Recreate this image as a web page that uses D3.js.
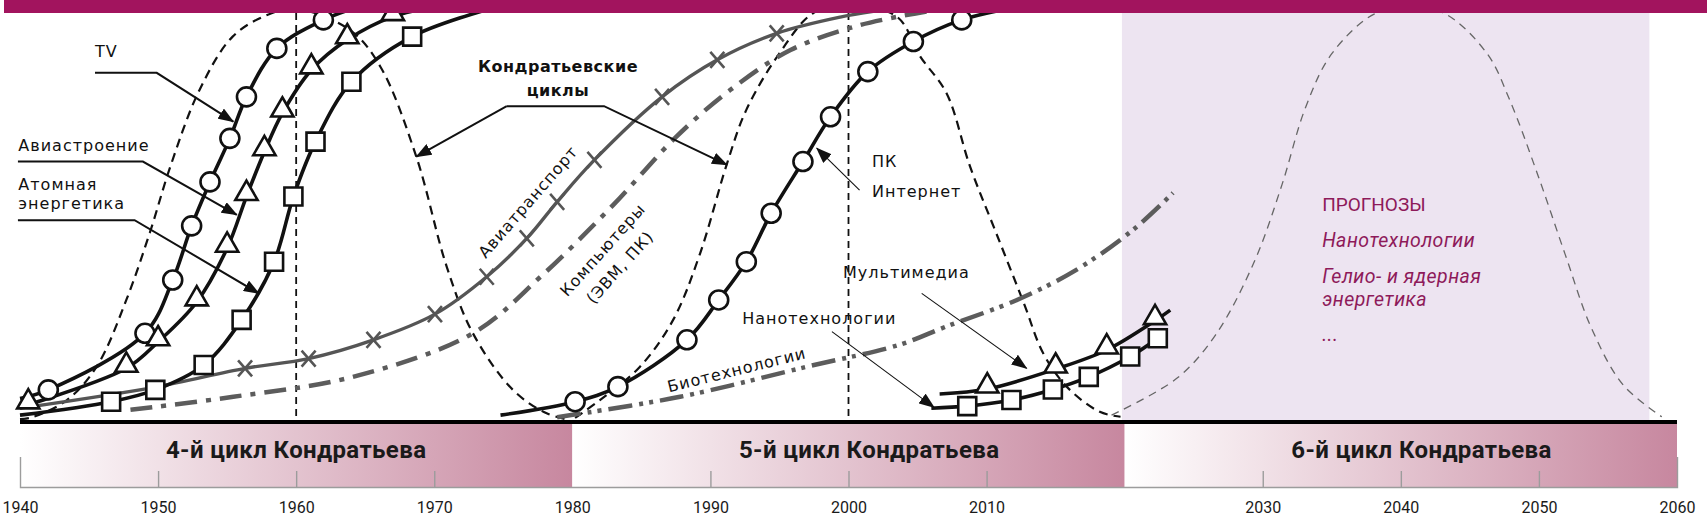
<!DOCTYPE html>
<html>
<head>
<meta charset="utf-8">
<script src="https://cdn.jsdelivr.net/npm/d3@7"></script>
<style>
  body { margin: 0; background: #fff; }
  svg { display: block; }
</style>
</head>
<body>
<div id="chart"></div>
<script>
// ---- data: [year, level 0..100] ----
var cycleNames = ["4-й цикл Кондратьева", "5-й цикл Кондратьева", "6-й цикл Кондратьева"];
var cycleStart = [1940, 1980, 2020];
var cycleEnd = [1980, 2020, 2060];
var cycleLabelYear = [1960, 2001.5, 2041.5];

var tickYears = [1950, 1960, 1970, 1990, 2000, 2010, 2030, 2040, 2050];
var labelYears = [1940, 1950, 1960, 1970, 1980, 1990, 2000, 2010, 2030, 2040, 2050, 2060];
var guideYears = [1960, 2000];
var forecastSpan = [2019.8, 2058];

// Kondratiev waves (dashed bells)
var wave4 = [[1940, 0.2], [1940.9, 0.7], [1943.4, 4.9], [1945.55, 13.1], [1947.7, 29.5], [1949.4, 46.0], [1950.9, 62.4],
  [1953.0, 81.1], [1955.4, 94.2], [1957.9, 99.5], [1960, 101], [1963.9, 95.8], [1966.1, 86.8], [1968.7, 64.7],
  [1970.9, 37.7], [1972.8, 21.3], [1975.7, 7.4], [1978.1, 1.7], [1979.8, 0]];
var wave5 = [[1980.2, 0.5], [1982.0, 4.9], [1984.9, 13.1], [1987.3, 24.6], [1989.25, 40.9], [1991.2, 63.0], [1992.6, 76.2],
  [1995.0, 90.1], [1997.45, 100], [2000, 102], [2003.5, 99.1], [2005.2, 89.3], [2007.1, 80.3], [2008.8, 62.3],
  [2010.7, 45.9], [2012.7, 28.7], [2014.1, 16.4], [2015.8, 8.2], [2018.2, 2.0], [2019.7, 0.8]];
var wave6 = [[2019.05, 1.2], [2023.8, 10.3], [2026.6, 21.0], [2029.4, 39.0], [2031.4, 57.9], [2033.1, 76.8], [2035.0, 90.0],
  [2038.1, 99.8], [2040.6, 101.5], [2043.2, 99.8], [2046.25, 90.0], [2047.9, 78.5], [2049.9, 60.4], [2051.9, 40.7],
  [2053.8, 22.6], [2056.1, 8.6], [2058.9, 0.8]];

// technology curves
var tvMarks = [[1942.05, 7.4], [1949.05, 21.3], [1951.06, 34.4], [1952.43, 47.7], [1953.76, 58.5], [1955.2, 69.2],
  [1956.4, 79.4], [1958.6, 91.3], [1961.97, 98.3]];
var tvEnds = [[1940, 5.3], [1964.5, 101.5]];
var aviaMarks = [[1940.6, 3.7], [1947.7, 12.7], [1950.0, 19.2], [1952.8, 29.0], [1955.0, 42.2], [1956.4, 54.9],
  [1957.7, 65.9], [1959.0, 75.4], [1961.1, 86.0], [1963.7, 93.4], [1967.0, 99.1]];
var aviaEnds = [[1940, 3.0], [1970, 101.5]];
var atomMarks = [[1946.6, 4.5], [1949.8, 7.4], [1953.3, 13.5], [1956.05, 24.6], [1958.4, 38.9], [1959.8, 54.9],
  [1961.4, 68.4], [1964.0, 83.1], [1968.4, 94.2]];
var atomEnds = [[1940, 1.2], [1974, 101]];
var pcMarks = [[1980.2, 4.5], [1983.3, 8.2], [1988.3, 19.7], [1990.6, 29.5], [1992.6, 38.9], [1994.4, 50.8],
  [1996.7, 63.5], [1998.7, 74.5], [2001.4, 85.6], [2004.7, 93.0], [2008.2, 98.3]];
var pcEnds = [[1974.8, 1.2], [2011.5, 101]];
var mediaMarks = [[2010.05, 7.6], [2015.0, 12.5], [2018.7, 17.2], [2022.2, 24.4]];
var mediaEnds = [[2006.6, 6.4], [2023.3, 27.0]];
var nanoMarks = [[2008.6, 3.4], [2011.8, 4.9], [2014.8, 7.5], [2017.4, 10.6], [2020.4, 15.6], [2022.4, 20.1]];
var nanoStart = [2006.0, 2.9];

var airMarks = [[1956.3, 12.7], [1960.9, 15.1], [1965.6, 19.7], [1970.05, 26.0], [1973.8, 35.2], [1976.7, 44.6],
  [1978.9, 53.6], [1981.6, 63.9], [1986.5, 79.4], [1990.5, 88.5], [1994.8, 95.0]];
var airLead = [[1940, 2.9], [1949.8, 8.1]];
var airTail = [[1999.4, 99], [2002, 100.5]];
var compLine = [[1948.0, 2.5], [1955.45, 5.7], [1964.1, 10.6], [1972.8, 21.3], [1977.7, 35.2], [1982.95, 52.8],
  [1987.5, 69.5], [1991.4, 81], [1995.8, 90.9], [2000.8, 97], [2005.9, 100.5]];
var bioLine = [[1978.9, 0.7], [1987.8, 5.7], [1997.0, 13.1], [2003.7, 18.5], [2007.1, 23.0], [2012.2, 29.5],
  [2016.5, 36.9], [2020.6, 46.7], [2023.5, 55.8]];

// annotations (text anchor points and leader lines, in year/level units)
var plainLabels = [
  {t: "TV", p: [1945.43, 89.1]},
  {t: "Авиастроение", p: [1939.88, 66.1]},
  {t: "Атомная", p: [1939.88, 56.6]},
  {t: "энергетика", p: [1939.88, 51.9]},
  {t: "ПК", p: [2001.7, 62.2]},
  {t: "Интернет", p: [2001.7, 54.9]},
  {t: "Мультимедиа", p: [1999.6, 34.8]},
  {t: "Нанотехнологии", p: [1992.3, 23.6]}
];
var boldLabels = [{t: "Кондратьевские", p: [1978.96, 85.6]}, {t: "циклы", p: [1978.96, 79.7]}];
var rotatedLabels = [
  {t: "Авиатранспорт", p: [1976.8, 53.6], a: -49},
  {t: "Компьютеры", p: [1982.2, 41.8], a: -48},
  {t: "(ЭВМ, ПК)", p: [1983.45, 37.5], a: -48},
  {t: "Биотехнологии", p: [1991.9, 12.3], a: -14}
];
var thickArrows = [
  [[1945.43, 85.3], [1949.9, 85.3], [1955.45, 73.3]],
  [[1939.85, 63.5], [1948.9, 63.5], [1955.7, 50.4]],
  [[1939.85, 49.1], [1948.3, 49.1], [1957.3, 31.1]],
  [[1975.25, 77.1], [1968.7, 64.7]],
  [[1975.25, 77.1], [1982.3, 77.1], [1991.2, 62.7]]
];
var thinArrows = [
  [[2000.8, 56.5], [1997.7, 66.8]],
  [[2005.3, 31.1], [2012.9, 12.7]],
  [[1998.8, 21.7], [2006.2, 3.1]]
];
var forecastTitle = {t: "ПРОГНОЗЫ", p: [2034.3, 51.35]};
var forecastItems = [
  {t: "Нанотехнологии", p: [2034.3, 42.5]},
  {t: "Гелио- и ядерная", p: [2034.3, 33.7]},
  {t: "энергетика", p: [2034.3, 28.0]},
  {t: "...", p: [2034.3, 19.3]}
];

// ---- drawing ----
var W = 1707, H = 528;
var x = d3.scaleLinear().domain([1940, 2060]).range([20, 1677]);
var y = d3.scaleLinear().domain([0, 100]).range([420, 13]);

var svg = d3.select("#chart").append("svg")
  .attr("width", W).attr("height", H)
  .style("font-family", "'DejaVu Sans', sans-serif");

var defs = svg.append("defs");
defs.append("clipPath").attr("id", "plot")
  .append("rect").attr("x", 0).attr("y", y(100)).attr("width", W).attr("height", y(0) - y(100));

defs.append("marker").attr("id", "head")
  .attr("viewBox", "0 0 16 12").attr("markerUnits", "userSpaceOnUse")
  .attr("markerWidth", 16).attr("markerHeight", 12)
  .attr("refX", 15).attr("refY", 6).attr("orient", "auto")
  .append("path").attr("d", "M0,0L16,6L0,12Z").attr("fill", "#111");

var grad = defs.append("linearGradient").attr("id", "band");
grad.append("stop").attr("offset", "0%").attr("stop-color", "#ffffff");
grad.append("stop").attr("offset", "100%").attr("stop-color", "#c7879f");

var line = d3.line()
  .x(function(d) { return x(d[0]); })
  .y(function(d) { return y(d[1]); })
  .curve(d3.curveCatmullRom.alpha(0.5));

function pos(d) { return "translate(" + x(d[0]) + "," + y(d[1]) + ")"; }

// forecast area
svg.append("rect")
  .attr("x", x(forecastSpan[0])).attr("y", y(100))
  .attr("width", x(forecastSpan[1]) - x(forecastSpan[0])).attr("height", y(0) - y(100))
  .attr("fill", "#ede4f1");

var plot = svg.append("g").attr("clip-path", "url(#plot)");

// guide lines at 1960 and 2000
plot.selectAll(".guide").data(guideYears).enter().append("line")
  .attr("x1", function(d) { return x(d); }).attr("x2", function(d) { return x(d); })
  .attr("y1", y(100)).attr("y2", y(0))
  .attr("stroke", "#111").attr("stroke-width", 1.8).attr("stroke-dasharray", "7,5");

// waves
plot.append("path").attr("d", line(wave4)).attr("fill", "none")
  .attr("stroke", "#111").attr("stroke-width", 2.2).attr("stroke-dasharray", "9,6");
plot.append("path").attr("d", line(wave5)).attr("fill", "none")
  .attr("stroke", "#111").attr("stroke-width", 2.2).attr("stroke-dasharray", "9,6");
plot.append("path").attr("d", line(wave6)).attr("fill", "none")
  .attr("stroke", "#666").attr("stroke-width", 1.3).attr("stroke-dasharray", "8,6");

// gray curves
plot.append("path").attr("d", line(compLine)).attr("fill", "none")
  .attr("stroke", "#5c5c5c").attr("stroke-width", 4.5).attr("stroke-dasharray", "22,9,5,9");
plot.append("path").attr("d", line(bioLine)).attr("fill", "none")
  .attr("stroke", "#5c5c5c").attr("stroke-width", 4.5).attr("stroke-dasharray", "24,7,4,6,4,7");
plot.append("path").attr("d", line(airLead.concat(airMarks, airTail))).attr("fill", "none")
  .attr("stroke", "#555").attr("stroke-width", 3.3);
plot.selectAll(".xm").data(airMarks).enter().append("path")
  .attr("transform", pos)
  .attr("d", "M-7,-8L7,8M-7,8L7,-8")
  .attr("stroke", "#555").attr("stroke-width", 2.6);

// black curves
var blackSeries = [
  tvEnds.slice(0, 1).concat(tvMarks, tvEnds.slice(1)),
  aviaEnds.slice(0, 1).concat(aviaMarks, aviaEnds.slice(1)),
  atomEnds.slice(0, 1).concat(atomMarks, atomEnds.slice(1)),
  pcEnds.slice(0, 1).concat(pcMarks, pcEnds.slice(1)),
  mediaEnds.slice(0, 1).concat(mediaMarks, mediaEnds.slice(1)),
  [nanoStart].concat(nanoMarks)
];
plot.selectAll(".blk").data(blackSeries).enter().append("path")
  .attr("d", line).attr("fill", "none")
  .attr("stroke", "#111").attr("stroke-width", 3.6);

var circ = d3.symbol().type(d3.symbolCircle).size(Math.PI * 9.5 * 9.5);
var tri = d3.symbol().type(d3.symbolTriangle).size(215);
var sq = d3.symbol().type(d3.symbolSquare).size(18 * 18);

plot.selectAll(".c").data(tvMarks.concat(pcMarks)).enter().append("path")
  .attr("transform", pos).attr("d", circ)
  .attr("fill", "#fff").attr("stroke", "#111").attr("stroke-width", 2.6);
plot.selectAll(".t").data(aviaMarks.concat(mediaMarks)).enter().append("path")
  .attr("transform", function(d) { return pos(d) + " translate(0,-3)"; }).attr("d", tri)
  .attr("fill", "#fff").attr("stroke", "#111").attr("stroke-width", 2.6);
plot.selectAll(".s").data(atomMarks.concat(nanoMarks)).enter().append("path")
  .attr("transform", pos).attr("d", sq)
  .attr("fill", "#fff").attr("stroke", "#111").attr("stroke-width", 2.6);

// annotations
var straight = d3.line().x(function(d) { return x(d[0]); }).y(function(d) { return y(d[1]); });
svg.selectAll(".arT").data(thickArrows).enter().append("path")
  .attr("d", straight).attr("fill", "none")
  .attr("stroke", "#111").attr("stroke-width", 2)
  .attr("marker-end", "url(#head)");
svg.selectAll(".art").data(thinArrows).enter().append("path")
  .attr("d", straight).attr("fill", "none")
  .attr("stroke", "#111").attr("stroke-width", 1.1)
  .attr("marker-end", "url(#head)");

svg.selectAll(".lbl").data(plainLabels).enter().append("text")
  .attr("x", function(d) { return x(d.p[0]); }).attr("y", function(d) { return y(d.p[1]); })
  .attr("font-size", 16).attr("letter-spacing", 1).attr("fill", "#111")
  .text(function(d) { return d.t; });
svg.selectAll(".bl").data(boldLabels).enter().append("text")
  .attr("x", function(d) { return x(d.p[0]); }).attr("y", function(d) { return y(d.p[1]); })
  .attr("text-anchor", "middle").attr("font-size", 16).attr("font-weight", "bold")
  .attr("letter-spacing", 0.5).attr("fill", "#111")
  .text(function(d) { return d.t; });
svg.selectAll(".rl").data(rotatedLabels).enter().append("text")
  .attr("transform", function(d) { return pos(d.p) + " rotate(" + d.a + ")"; })
  .attr("text-anchor", "middle").attr("dominant-baseline", "central")
  .attr("font-size", 16).attr("letter-spacing", 1).attr("fill", "#111")
  .text(function(d) { return d.t; });

// forecast texts
svg.append("text")
  .attr("x", x(forecastTitle.p[0])).attr("y", y(forecastTitle.p[1]))
  .attr("font-family", "Roboto, sans-serif").attr("font-size", 19).attr("fill", "#8e1a5a")
  .text(forecastTitle.t);
svg.selectAll(".fi").data(forecastItems).enter().append("text")
  .attr("x", function(d) { return x(d.p[0]); }).attr("y", function(d) { return y(d.p[1]); })
  .attr("font-family", "Roboto, sans-serif").attr("font-size", 19.5).attr("font-style", "italic")
  .attr("letter-spacing", 0.5).attr("fill", "#8e1a5a")
  .text(function(d) { return d.t; });

// top bar
svg.append("rect").attr("x", 4).attr("y", 0).attr("width", W - 4).attr("height", y(100))
  .attr("fill", "#a2145e");

// cycle bands under the axis
var bandTop = 424, bandBottom = 487;
svg.selectAll(".band").data(cycleStart).enter().append("rect")
  .attr("x", function(d) { return x(d); }).attr("y", bandTop)
  .attr("width", function(d, i) { return x(cycleEnd[i]) - x(d); })
  .attr("height", bandBottom - bandTop)
  .attr("fill", "url(#band)");
svg.selectAll(".cname").data(cycleNames).enter().append("text")
  .attr("x", function(d, i) { return x(cycleLabelYear[i]); }).attr("y", 458)
  .attr("text-anchor", "middle")
  .attr("font-family", "Roboto, sans-serif").attr("font-weight", "bold").attr("font-size", 24)
  .attr("letter-spacing", 0.4).attr("fill", "#1a1a1a")
  .text(function(d) { return d; });

// main axis line
svg.append("line").attr("x1", x(1940)).attr("x2", x(2060)).attr("y1", 422).attr("y2", 422)
  .attr("stroke", "#000").attr("stroke-width", 4);

// tick rail with tall edge ticks
var tickAxis = svg.append("g").attr("transform", "translate(0," + bandBottom + ")")
  .call(d3.axisTop(x).tickValues(tickYears).tickSize(16).tickSizeOuter(30).tickFormat(""));
tickAxis.selectAll("path, line").attr("stroke", "#9c9c9c").attr("stroke-width", 1.4);

var labelAxis = svg.append("g").attr("transform", "translate(0,502)")
  .call(d3.axisBottom(x).tickValues(labelYears).tickSize(0).tickPadding(0).tickFormat(d3.format("d")));
labelAxis.select(".domain").remove();
labelAxis.selectAll("text")
  .attr("font-family", "Roboto, sans-serif").attr("font-size", 16).attr("fill", "#1a1a1a");
</script>
</body>
</html>
